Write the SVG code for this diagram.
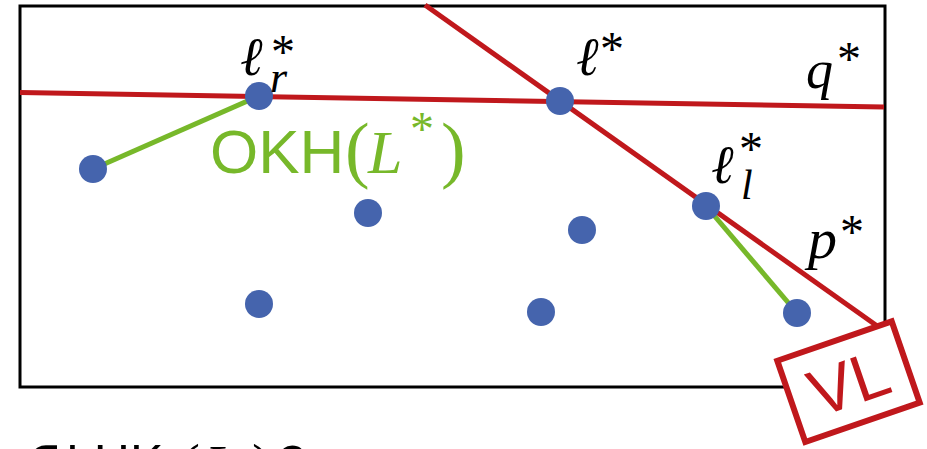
<svg xmlns="http://www.w3.org/2000/svg" width="927" height="449" viewBox="0 0 927 449">
  <style>
    .frame { fill: none; stroke: #000; stroke-width: 3; }
    .red { stroke: #c0181c; stroke-width: 5; fill: none; stroke-linecap: butt; }
    .green { stroke: #77b82a; stroke-width: 5; fill: none; }
    .dot { fill: #4564ad; }
    .m { font-family: "Liberation Serif", "DejaVu Serif", serif; font-style: italic; fill: #000; }
    .up { font-style: normal; }
    .sans { font-family: "Liberation Sans", "DejaVu Sans", sans-serif; fill: #000; }
    .g { fill: #77b82a; }
    .r { fill: #c0181c; }
  </style>
  <g id="frame">
    <rect class="frame" x="20" y="6" width="865" height="381"/>
  </g>
  <g id="connectors">
    <line id="q-line" class="red" x1="20" y1="92.5" x2="884" y2="107"/>
    <line id="p-line" class="red" x1="425" y1="5" x2="880" y2="328"/>
    <line id="okh-left" class="green" x1="93" y1="169" x2="259" y2="96"/>
    <line id="okh-right" class="green" x1="706" y1="206" x2="797" y2="313"/>
  </g>
  <g id="points">
    <circle id="p1" class="dot" cx="93" cy="169" r="14"/>
    <circle id="lr" class="dot" cx="259" cy="96" r="14"/>
    <circle id="lstar" class="dot" cx="560" cy="101" r="14"/>
    <circle id="p4" class="dot" cx="368" cy="213" r="14"/>
    <circle id="p5" class="dot" cx="582" cy="230" r="14"/>
    <circle id="ll" class="dot" cx="706" cy="206" r="14"/>
    <circle id="p7" class="dot" cx="259" cy="304" r="14"/>
    <circle id="p8" class="dot" cx="541" cy="312" r="14"/>
    <circle id="p9" class="dot" cx="797" cy="313" r="14"/>
  </g>
  <g id="labels">
    <g id="label-lr">
      <text class="m" x="241" y="75" font-size="54" font-weight="bold">ℓ</text>
      <text class="m up" x="271" y="68" font-size="48">*</text>
      <text class="m" x="270" y="92" font-size="44">r</text>
    </g>
    <g id="label-lstar">
      <text class="m" x="577" y="75" font-size="54" font-weight="bold">ℓ</text>
      <text class="m up" x="600" y="65" font-size="48">*</text>
    </g>
    <g id="label-q">
      <text class="m" x="806" y="88" font-size="54">q</text>
      <text class="m up" x="837" y="75" font-size="48">*</text>
    </g>
    <g id="label-ll">
      <text class="m" x="712" y="183" font-size="54" font-weight="bold">ℓ</text>
      <text class="m up" x="739" y="165" font-size="48">*</text>
      <text class="m" x="741" y="199" font-size="42">l</text>
    </g>
    <g id="label-p">
      <text class="m" x="808" y="258" font-size="58">p</text>
      <text class="m up" x="840" y="248" font-size="48">*</text>
    </g>
    <g id="label-okh">
      <text class="sans g" x="210" y="173" font-size="62">OKH</text>
      <text class="m up g" x="345" y="174" font-size="74">(</text>
      <text class="m g" x="368" y="173" font-size="62">L</text>
      <text class="m up g" x="410" y="145" font-size="48">*</text>
      <text class="m up g" x="441" y="174" font-size="74">)</text>
    </g>
  </g>
  <g id="vl-box" transform="translate(848.5,381.7) rotate(-19)">
    <rect x="-60.5" y="-43" width="121" height="86" fill="#fff" stroke="#c0181c" stroke-width="6"/>
    <text class="sans r" x="0" y="24" font-size="66" text-anchor="middle">VL</text>
  </g>
  <g id="question">
    <text class="m up" x="24" y="478" font-size="52">∈</text>
    <text class="sans" x="66" y="480" font-size="50">LHK</text>
    <text class="m up" x="180" y="485" font-size="60">(</text>
    <text class="m" x="205" y="483" font-size="54">L</text>
    <text class="m up" x="252" y="485" font-size="60">)</text>
    <text class="sans" x="278" y="481" font-size="50">?</text>
  </g>
</svg>
